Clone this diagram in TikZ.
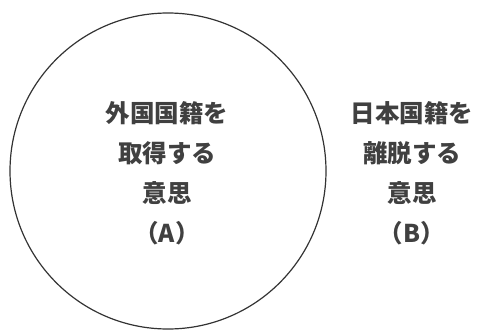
\documentclass[tikz,border=0pt]{standalone}
\usepackage{fontspec}
\newfontfamily\jpfont{Noto Sans CJK JP}
\begin{document}
\begin{tikzpicture}[x=1pt, y=-1pt]
            \pgfmathsetmacro{\R}{158}
            \useasboundingbox (0, 0) rectangle (479, 332);
            \coordinate (O) at (168, 171);
            \coordinate (PA) at (167, 173);
            \coordinate (PB) at (412, 173);

            \draw[line width=1.2pt, black!80] (O) circle (\R);

            \node[align=center, text=black!75, font=\jpfont\bfseries\fontsize{24.5}{40}\selectfont] (A) at (PA) {外国国籍を\\取得する\\意思\\（A）};
            \node[align=center, text=black!75, font=\jpfont\bfseries\fontsize{24.5}{40}\selectfont] (B) at (PB) {日本国籍を\\離脱する\\意思\\（B）};
        \end{tikzpicture}
\end{document}
